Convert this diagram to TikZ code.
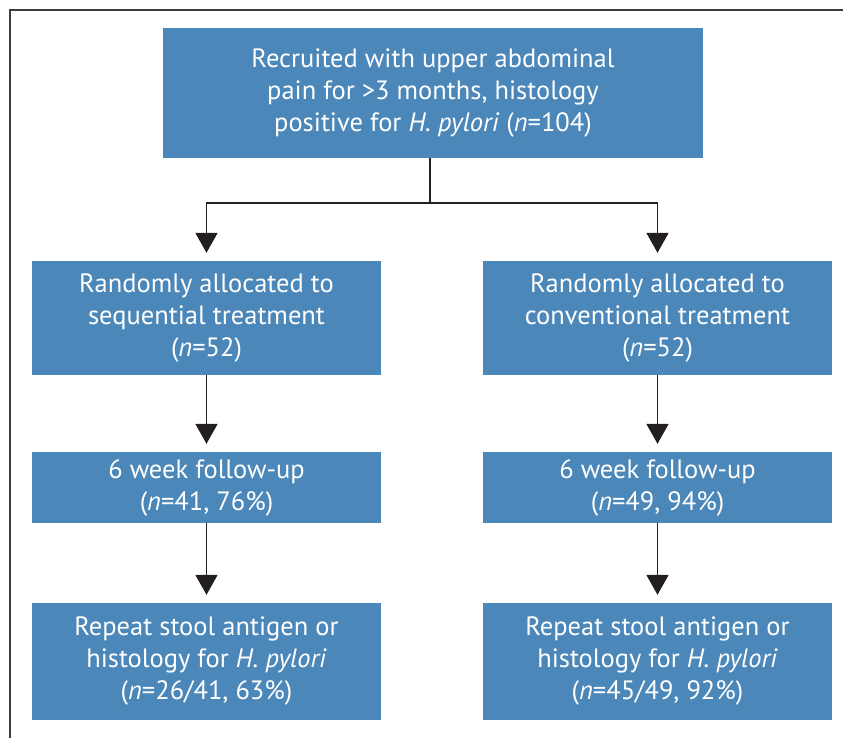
\documentclass[tikz,border=0pt]{standalone}
\usepackage{fontspec}
\setmainfont{PT Sans}
\usetikzlibrary{arrows.meta}
\definecolor{boxblue}{RGB}{75,135,185}
\definecolor{linecol}{RGB}{35,31,32}
\definecolor{framecol}{RGB}{60,60,60}
\begin{document}
\begin{tikzpicture}[x=1pt,y=-1pt,
  flowbox/.style={fill=boxblue,draw=none,text=white,align=center,inner sep=0pt,
    minimum width=349pt,font=\fontsize{26.5}{32}\selectfont},
  conn/.style={draw=linecol,line width=1.8pt},
  arr/.style={conn,-{Triangle[width=22pt,length=20pt]},shorten >=8pt}]
\useasboundingbox (0,0) rectangle (843,738);
\draw[framecol,line width=1.4pt] (10,738) -- (10,10) -- (843,10);

\node[flowbox,minimum width=540pt,minimum height=130pt] (top) at (433,93)
  {Recruited with upper abdominal\\pain for >3 months, histology\\positive for \textit{H. pylori} (\textit{n}=104)};

\node[flowbox,minimum height=114pt] (l1) at (206.5,318)
  {Randomly allocated to\\sequential treatment\\(\textit{n}=52)};
\node[flowbox,minimum height=114pt] (r1) at (657.5,318)
  {Randomly allocated to\\conventional treatment\\(\textit{n}=52)};

\node[flowbox,minimum height=71pt] (l2) at (206.5,487.5)
  {6 week follow-up\\(\textit{n}=41, 76\%)};
\node[flowbox,minimum height=71pt] (r2) at (657.5,487.5)
  {6 week follow-up\\(\textit{n}=49, 94\%)};

\node[flowbox,minimum height=117pt] (l3) at (206.5,661.5)
  {Repeat stool antigen or\\histology for \textit{H. pylori}\\(\textit{n}=26/41, 63\%)};
\node[flowbox,minimum height=117pt] (r3) at (657.5,661.5)
  {Repeat stool antigen or\\histology for \textit{H. pylori}\\(\textit{n}=45/49, 92\%)};

\coordinate (j) at (430,203);
\draw[conn] (top.south -| j) -- (j);
\draw[arr] (j) -| (l1.north);
\draw[arr] (j) -| (r1.north);
\draw[arr] (l1) -- (l2);
\draw[arr] (r1) -- (r2);
\draw[arr] (l2) -- (l3);
\draw[arr] (r2) -- (r3);
\end{tikzpicture}
\end{document}
